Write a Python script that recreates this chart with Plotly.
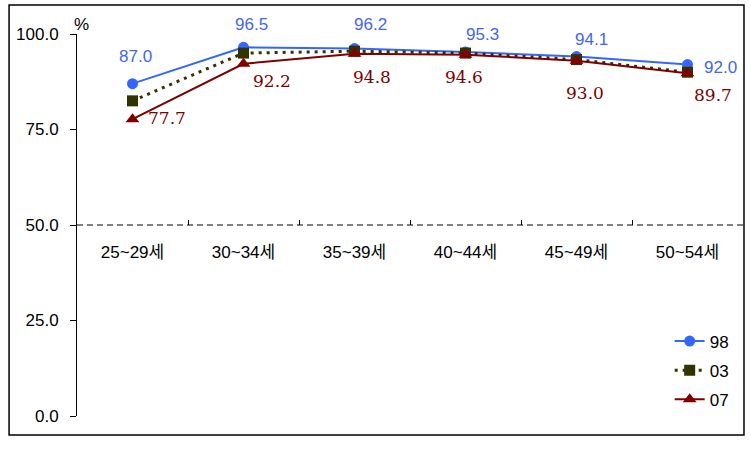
import plotly.graph_objects as go

categories = ["25~29세", "30~34세", "35~39세", "40~44세", "45~49세", "50~54세"]
series_names = ["98", "03", "07"]
v98 = [87.0, 96.5, 96.2, 95.3, 94.1, 92.0]
v03 = [82.5, 95.0, 95.5, 95.0, 93.3, 90.0]
v07 = [77.7, 92.2, 94.8, 94.6, 93.0, 89.7]
y_ticks = [0, 25, 50, 75, 100]

# label offsets in pixels (dx, dy) relative to the points (styling only)
off98 = [(3, -27), (8, -23), (16, -24), (17, -17), (15, -17), (33, 3)]
off07 = [(34, -1), (28, 17), (17, 23), (-2, 22), (8, 32), (25, 22)]

BLUE = "#3366FF"
OLIVE = "#333300"
MAROON = "#800000"
SANS = "Liberation Sans, Arial, Noto Sans CJK KR, sans-serif"
SERIF = "DejaVu Serif, Liberation Serif, serif"

fig = go.Figure()
fig.add_trace(go.Scatter(x=categories, y=v98, name=series_names[0], mode="lines+markers",
                         legendgroup="g98",
                         line=dict(color=BLUE, width=2),
                         marker=dict(symbol="circle", size=11, color=BLUE)))
fig.add_trace(go.Scatter(x=categories, y=v03, name=series_names[1], mode="lines+markers",
                         legendgroup="g03",
                         line=dict(color=OLIVE, width=3, dash="3px,5px"),
                         marker=dict(symbol="square", size=11, color=OLIVE)))
fig.add_trace(go.Scatter(x=categories, y=v07, name=series_names[2], mode="lines+markers",
                         legendgroup="g07",
                         line=dict(color=MAROON, width=2),
                         marker=dict(symbol="triangle-up", size=12, color=MAROON)))

annotations = []
for c, v, (dx, dy) in zip(categories, v98, off98):
    annotations.append(dict(x=c, y=v, xref="x", yref="y", text=f"{v:.1f}", showarrow=False,
                            xshift=dx, yshift=-dy, xanchor="center", yanchor="middle",
                            font=dict(family=SANS, size=17, color="#4466F0")))
for c, v, (dx, dy) in zip(categories, v07, off07):
    annotations.append(dict(x=c, y=v, xref="x", yref="y", text=f"{v:.1f}", showarrow=False,
                            xshift=dx, yshift=-dy, xanchor="center", yanchor="middle",
                            font=dict(family=SERIF, size=17, color=MAROON)))
annotations.append(dict(x=0.0075, y=1.024, xref="paper", yref="paper", text="%", showarrow=False,
                        xanchor="center", yanchor="middle",
                        font=dict(family=SANS, size=17, color="#000000")))

shapes = [
    dict(type="line", xref="paper", yref="y", x0=0, x1=1, y0=50, y1=50,
         line=dict(color="#000000", width=1, dash="6px,4px")),
    dict(type="rect", xref="paper", yref="paper", x0=-0.102, x1=1.0015, y0=-0.0497, y1=1.0759,
         line=dict(color="#000000", width=1.5), fillcolor="rgba(0,0,0,0)"),
]

fig.update_layout(
    width=751, height=451,
    margin=dict(l=77, r=8, t=34, b=35),
    paper_bgcolor="white", plot_bgcolor="white",
    font=dict(family=SANS, size=17, color="#000000"),
    showlegend=True,
    legend=dict(x=0.986, y=-0.004, xanchor="right", yanchor="bottom", tracegroupgap=4,
                bgcolor="rgba(0,0,0,0)", font=dict(family=SANS, size=17)),
    annotations=annotations,
    shapes=shapes,
    xaxis=dict(type="category", anchor="free", position=0.5, showline=False, showgrid=False,
               zeroline=False, ticks="inside", tickson="boundaries", ticklen=5, tickcolor="#000000",
               tickfont=dict(family=SANS, size=17), ticklabelstandoff=15,
               range=[-0.5, 5.5]),
    yaxis=dict(range=[0, 100], tickvals=y_ticks, tickformat=".1f", showline=True,
               linecolor="#000000", linewidth=1, ticks="outside", ticklen=6, tickcolor="#000000",
               showgrid=False, zeroline=False, tickfont=dict(family=SANS, size=17),
               ticklabelstandoff=8),
)

fig.write_html("out.html")
